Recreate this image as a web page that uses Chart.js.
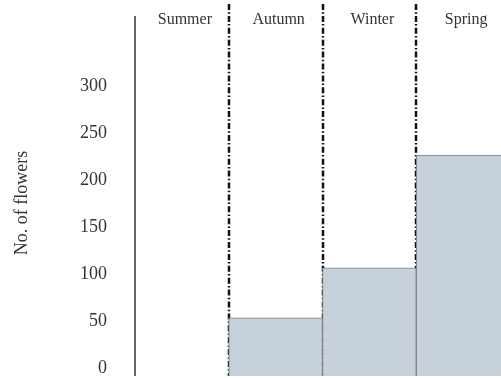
<!DOCTYPE html>
<html>
<head>
<meta charset="utf-8">
<script src="https://cdn.jsdelivr.net/npm/chart.js@4/dist/chart.umd.min.js"></script>
<style>
  html, body { margin: 0; padding: 0; background: #fff; overflow: hidden; }
  #wrap { width: 512px; height: 378px; }
</style>
</head>
<body>
<div id="wrap"><canvas id="c" width="512" height="378"></canvas></div>
<script>
const seasons = ['Summer', 'Autumn', 'Winter', 'Spring'];
const flowers = [0, 62, 115, 235];
const yTickValues = [0, 50, 100, 150, 200, 250, 300];
const yTitle = 'No. of flowers';

const serif = '"Liberation Serif", "Times New Roman", serif';

const decorPlugin = {
  id: 'decor',
  beforeDatasetsDraw(chart) {
    const x = chart.scales.x;
    const area = chart.chartArea;
    const ctx = chart.ctx;
    ctx.save();
    // y axis line (extends slightly above the plot area as in the reference)
    ctx.strokeStyle = '#666';
    ctx.lineWidth = 2;
    ctx.beginPath();
    ctx.moveTo(area.left, 16);
    ctx.lineTo(area.left, area.bottom);
    ctx.stroke();
    // dash-dot season dividers
    ctx.strokeStyle = '#111';
    ctx.lineWidth = 2.5;
    ctx.setLineDash([6, 2.2, 1.5, 2.2]);
    for (let i = 0; i < seasons.length - 1; i++) {
      const px = Math.round((x.getPixelForTick(i) + x.getPixelForTick(i + 1)) / 2);
      ctx.beginPath();
      ctx.moveTo(px, 4);
      ctx.lineTo(px, area.bottom);
      ctx.stroke();
    }
    ctx.restore();
  }
};

new Chart(document.getElementById('c'), {
  type: 'bar',
  data: {
    labels: seasons,
    datasets: [{
      data: flowers,
      backgroundColor: '#c5d0db',
      borderColor: '#7d8085',
      borderWidth: 1,
      barPercentage: 1,
      categoryPercentage: 1
    }]
  },
  options: {
    responsive: false,
    animation: false,
    devicePixelRatio: 1,
    layout: { padding: { left: 0, right: 2, top: 0, bottom: 2 } },
    plugins: { legend: { display: false }, tooltip: { enabled: false } },
    scales: {
      x: {
        position: 'top',
        grid: { display: false, drawTicks: false },
        border: { display: false },
        ticks: {
          padding: 1,
          labelOffset: 3,
          color: '#333',
          font: { family: serif, size: 16 }
        },
        afterFit(scale) {
          scale.height = 30;
          scale.paddingLeft = 0;
          scale.paddingRight = 0;
        }
      },
      y: {
        min: 0,
        max: 368,
        grid: { display: false, drawTicks: false },
        border: { display: false },
        ticks: {
          stepSize: 50,
          padding: 28,
          labelOffset: -8,
          color: '#333',
          font: { family: serif, size: 18 }
        },
        afterBuildTicks(scale) {
          scale.ticks = yTickValues.map(v => ({ value: v }));
        },
        title: {
          display: true,
          text: yTitle,
          color: '#333',
          padding: { top: 11, bottom: 0 },
          font: { family: serif, size: 18 }
        },
        afterFit(scale) {
          scale.width = 135;
          scale.paddingTop = 0;
          scale.paddingBottom = 0;
        }
      }
    }
  },
  plugins: [decorPlugin]
});
</script>
</body>
</html>
